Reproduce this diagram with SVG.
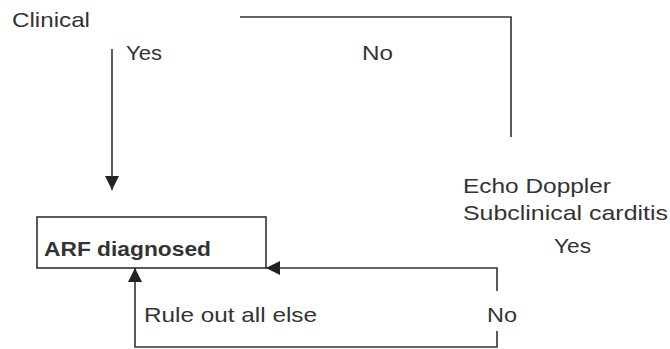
<svg xmlns="http://www.w3.org/2000/svg" width="670" height="349" viewBox="0 0 670 349">
<style>
.t{font-family:"Liberation Sans",Arial,sans-serif;font-size:21px;fill:#333}
.b{font-weight:bold}
.ln{fill:none;stroke:#333;stroke-width:1.6}
</style>
<defs>
<marker id="ah" viewBox="0 0 14 14" refX="14" refY="7" markerWidth="14" markerHeight="14" markerUnits="userSpaceOnUse" orient="auto">
<path d="M0,0 L14,7 L0,14 z" fill="#222"/>
</marker>
</defs>
<rect width="670" height="349" fill="#fff"/>
<g id="clinical"><text class="t" x="12" y="27" textLength="78" lengthAdjust="spacingAndGlyphs">Clinical</text></g>
<g id="echo">
<text class="t" x="463" y="193" textLength="148" lengthAdjust="spacingAndGlyphs">Echo Doppler</text>
<text class="t" x="463" y="220" textLength="205" lengthAdjust="spacingAndGlyphs">Subclinical carditis</text>
</g>
<g id="arf">
<rect x="37" y="217" width="229" height="51" class="ln"/>
<text class="t b" x="44" y="256" textLength="167" lengthAdjust="spacingAndGlyphs">ARF diagnosed</text>
</g>
<g id="connectors">
<line x1="112" y1="49" x2="112" y2="190" class="ln" marker-end="url(#ah)"/>
<polyline points="240,17 511,17 511,137" class="ln"/>
<polyline points="497,291 497,268 266,268" class="ln" marker-end="url(#ah)"/>
<polyline points="497,331 497,347 135,347 135,268" class="ln" marker-end="url(#ah)"/>
</g>
<g id="labels">
<text class="t" x="126" y="60" textLength="36" lengthAdjust="spacingAndGlyphs">Yes</text>
<text class="t" x="362" y="60" textLength="31" lengthAdjust="spacingAndGlyphs">No</text>
<text class="t" x="554" y="253" textLength="37" lengthAdjust="spacingAndGlyphs">Yes</text>
<text class="t" x="487" y="322" textLength="30" lengthAdjust="spacingAndGlyphs">No</text>
<text class="t" x="144" y="322" textLength="173" lengthAdjust="spacingAndGlyphs">Rule out all else</text>
</g>
</svg>
